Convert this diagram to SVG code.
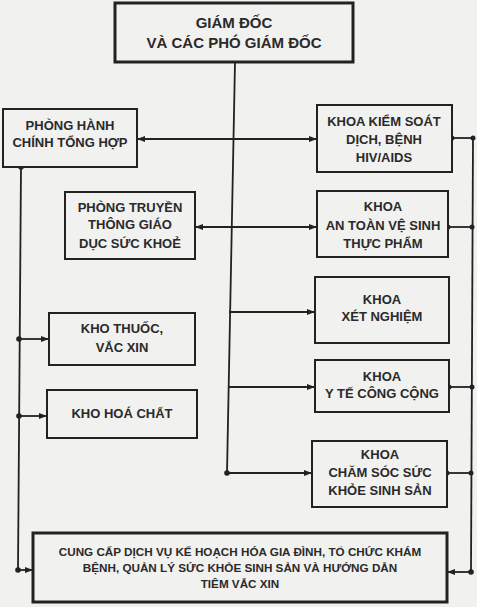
<svg xmlns="http://www.w3.org/2000/svg" width="477" height="607" viewBox="0 0 477 607">
<style>
.bg{fill:#f1f1ef}
.box{fill:#f1f1ef;stroke:#222;stroke-width:2}
.box2{fill:#f1f1ef;stroke:#222;stroke-width:3}
.t{font-family:"Liberation Sans",Arial,sans-serif;font-weight:bold;font-size:13px;fill:#2a2a2a;text-anchor:middle}
.t15{font-size:15px}
.t12{font-size:11.7px}
.ln{stroke:#222;stroke-width:1.8;fill:none}
.dot{fill:#222}
</style>
<defs>
<marker id="ah" viewBox="0 0 8 6" refX="8" refY="3" markerWidth="8" markerHeight="6" markerUnits="userSpaceOnUse" orient="auto-start-reverse">
<path d="M0,0 L8,3 L0,6 z" fill="#222"/>
</marker>
</defs>
<rect class="bg" x="0" y="0" width="477" height="607"/>

<g id="connectors">
<line class="ln" x1="235" y1="62" x2="227" y2="473"/>
<line class="ln" x1="137" y1="139" x2="317" y2="139" marker-start="url(#ah)" marker-end="url(#ah)"/>
<line class="ln" x1="195" y1="227" x2="317" y2="227" marker-start="url(#ah)" marker-end="url(#ah)"/>
<line class="ln" x1="229" y1="312" x2="315" y2="312" marker-end="url(#ah)"/>
<line class="ln" x1="228" y1="387" x2="315" y2="387" marker-end="url(#ah)"/>
<line class="ln" x1="227" y1="473" x2="312" y2="473" marker-end="url(#ah)"/>
<circle class="dot" cx="227" cy="473" r="2.8"/>
<line class="ln" x1="21" y1="167" x2="18" y2="570"/>
<circle class="dot" cx="21" cy="167" r="2.8"/>
<line class="ln" x1="19" y1="339" x2="49" y2="339" marker-end="url(#ah)"/>
<circle class="dot" cx="19" cy="339" r="2.8"/>
<line class="ln" x1="19" y1="416" x2="47" y2="416" marker-end="url(#ah)"/>
<circle class="dot" cx="19" cy="416" r="2.8"/>
<line class="ln" x1="18" y1="570" x2="33" y2="570" marker-end="url(#ah)"/>
<circle class="dot" cx="18" cy="570" r="2.8"/>
<line class="ln" x1="473" y1="138" x2="471" y2="572"/>
<line class="ln" x1="452" y1="138" x2="473" y2="138"/>
<circle class="dot" cx="452" cy="138" r="2.5"/>
<circle class="dot" cx="473" cy="138" r="2.5"/>
<line class="ln" x1="448" y1="227" x2="472" y2="227"/>
<circle class="dot" cx="448" cy="227" r="2.5"/>
<circle class="dot" cx="472" cy="227" r="2.5"/>
<line class="ln" x1="449" y1="387" x2="472" y2="387"/>
<circle class="dot" cx="449" cy="387" r="2.5"/>
<circle class="dot" cx="472" cy="387" r="2.5"/>
<line class="ln" x1="447" y1="473" x2="471" y2="473"/>
<circle class="dot" cx="447" cy="473" r="2.5"/>
<circle class="dot" cx="471" cy="473" r="2.5"/>
<line class="ln" x1="471" y1="572" x2="447" y2="572" marker-end="url(#ah)"/>
<circle class="dot" cx="471" cy="572" r="2.8"/>
</g>

<g id="giam-doc">
<rect class="box2" x="115" y="3" width="238" height="59"/>
<text class="t t15" x="234" y="28">GIÁM ĐỐC</text>
<text class="t t15" x="234" y="48">VÀ CÁC PHÓ GIÁM ĐỐC</text>
</g>

<g id="phong-hanh-chinh">
<rect class="box" x="3" y="109" width="134" height="58"/>
<text class="t" x="70" y="130">PHÒNG HÀNH</text>
<text class="t" x="70" y="147">CHÍNH TỔNG HỢP</text>
</g>

<g id="khoa-kiem-soat">
<rect class="box" x="317" y="105" width="135" height="67"/>
<text class="t" x="384" y="126">KHOA KIỂM SOÁT</text>
<text class="t" x="384" y="144">DỊCH, BỆNH</text>
<text class="t" x="384" y="162">HIV/AIDS</text>
</g>

<g id="phong-truyen-thong">
<rect class="box" x="65" y="192" width="130" height="67"/>
<text class="t" x="130" y="212">PHÒNG TRUYỀN</text>
<text class="t" x="130" y="229">THÔNG GIÁO</text>
<text class="t" x="130" y="248">DỤC SỨC KHOẺ</text>
</g>

<g id="khoa-an-toan">
<rect class="box" x="317" y="191" width="131" height="66"/>
<text class="t" x="383" y="211">KHOA</text>
<text class="t" x="383" y="230">AN TOÀN VỆ SINH</text>
<text class="t" x="383" y="248">THỰC PHẨM</text>
</g>

<g id="khoa-xet-nghiem">
<rect class="box" x="315" y="277" width="134" height="66"/>
<text class="t" x="382" y="304">KHOA</text>
<text class="t" x="382" y="321">XÉT NGHIỆM</text>
</g>

<g id="khoa-y-te">
<rect class="box" x="315" y="360" width="134" height="52"/>
<text class="t" x="382" y="381">KHOA</text>
<text class="t" x="382" y="398">Y TẾ CÔNG CỘNG</text>
</g>

<g id="khoa-cham-soc">
<rect class="box" x="312" y="441" width="135" height="66"/>
<text class="t" x="380" y="459">KHOA</text>
<text class="t" x="380" y="477">CHĂM SÓC SỨC</text>
<text class="t" x="380" y="495">KHỎE SINH SẢN</text>
</g>

<g id="kho-thuoc">
<rect class="box" x="49" y="313" width="146" height="52"/>
<text class="t" x="122" y="333">KHO THUỐC,</text>
<text class="t" x="122" y="352">VẮC XIN</text>
</g>

<g id="kho-hoa-chat">
<rect class="box" x="47" y="390" width="150" height="48"/>
<text class="t" x="122" y="418">KHO HOÁ CHẤT</text>
</g>

<g id="cung-cap-dich-vu">
<rect class="box2" x="33" y="533" width="414" height="69"/>
<text class="t t12" x="240" y="556">CUNG CẤP DỊCH VỤ KẾ HOẠCH HÓA GIA ĐÌNH, TỔ CHỨC KHÁM</text>
<text class="t t12" x="240" y="572">BỆNH, QUẢN LÝ SỨC KHỎE SINH SẢN VÀ HƯỚNG DẪN</text>
<text class="t t12" x="240" y="588">TIÊM VẮC XIN</text>
</g>
</svg>
